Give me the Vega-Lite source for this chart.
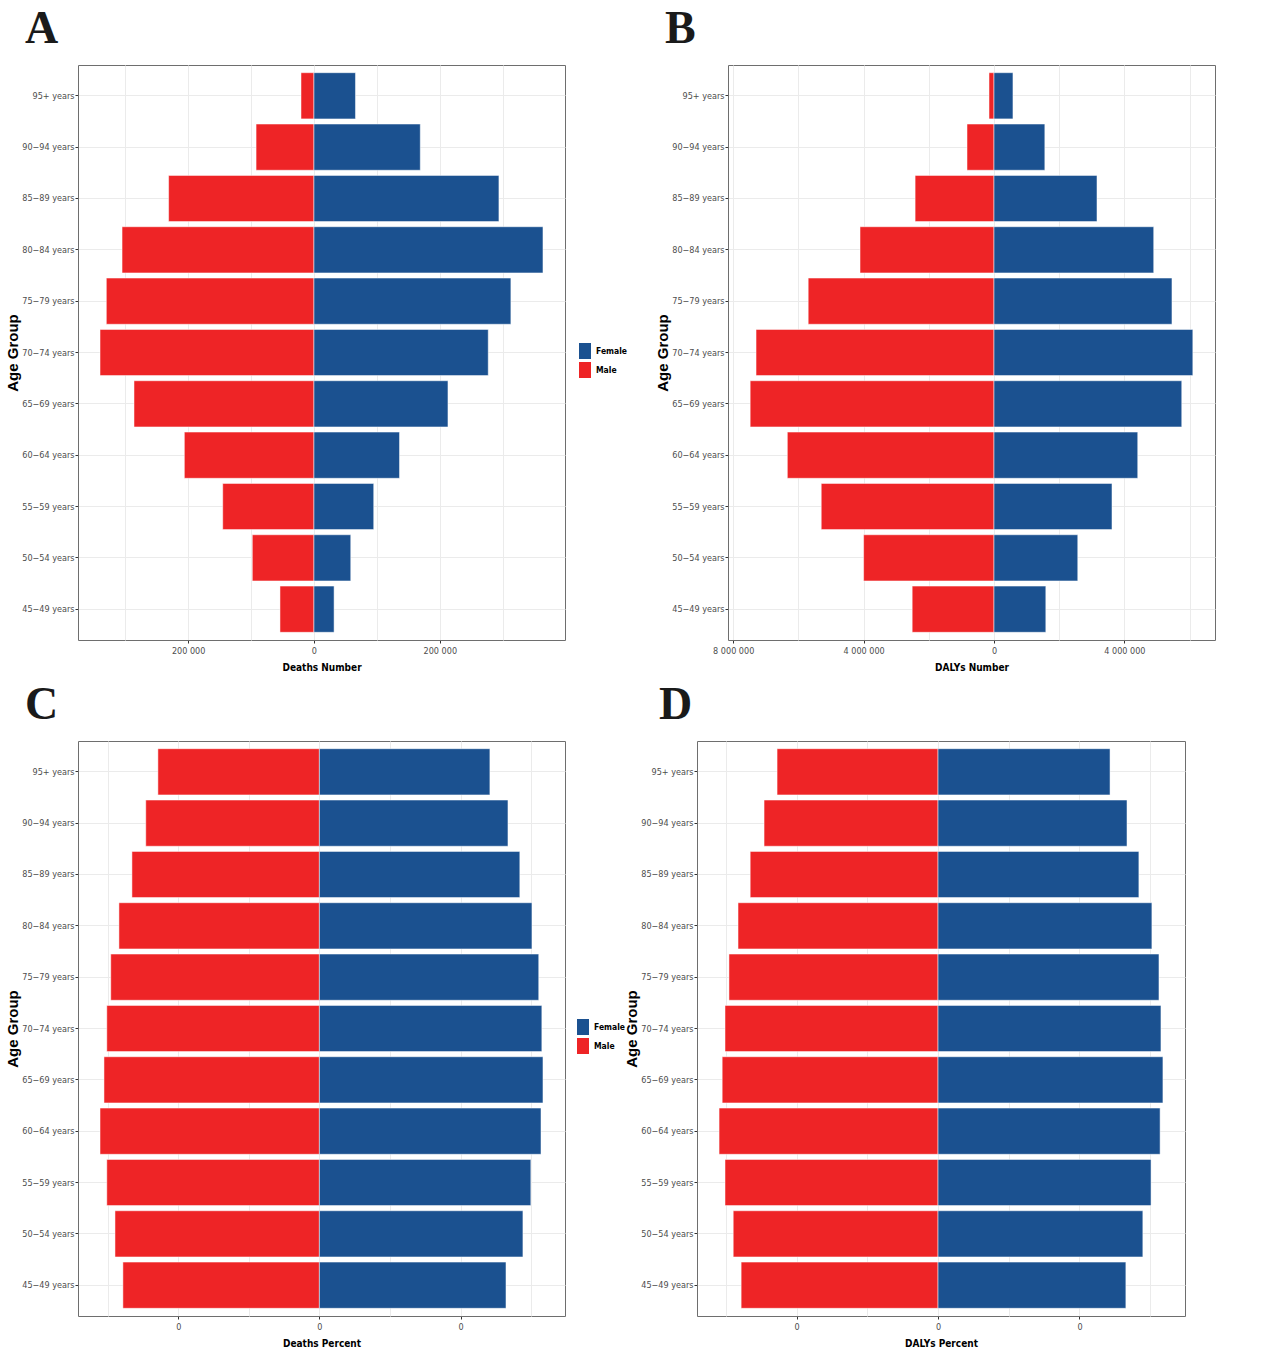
{
  "$schema": "https://vega.github.io/schema/vega-lite/v6.json",
  "padding": {"left": 5, "top": 5, "right": 0, "bottom": 0},
  "background": "white",
  "data": {"values": [
    {"panel":"A","age":"95+ years","sex":"Male","value":-20600},{"panel":"A","age":"95+ years","sex":"Female","value":66000},
    {"panel":"A","age":"90−94 years","sex":"Male","value":-92000},{"panel":"A","age":"90−94 years","sex":"Female","value":169000},
    {"panel":"A","age":"85−89 years","sex":"Male","value":-231000},{"panel":"A","age":"85−89 years","sex":"Female","value":294000},
    {"panel":"A","age":"80−84 years","sex":"Male","value":-305000},{"panel":"A","age":"80−84 years","sex":"Female","value":364000},
    {"panel":"A","age":"75−79 years","sex":"Male","value":-330000},{"panel":"A","age":"75−79 years","sex":"Female","value":313000},
    {"panel":"A","age":"70−74 years","sex":"Male","value":-340000},{"panel":"A","age":"70−74 years","sex":"Female","value":277000},
    {"panel":"A","age":"65−69 years","sex":"Male","value":-286000},{"panel":"A","age":"65−69 years","sex":"Female","value":213000},
    {"panel":"A","age":"60−64 years","sex":"Male","value":-206000},{"panel":"A","age":"60−64 years","sex":"Female","value":136000},
    {"panel":"A","age":"55−59 years","sex":"Male","value":-145000},{"panel":"A","age":"55−59 years","sex":"Female","value":95000},
    {"panel":"A","age":"50−54 years","sex":"Male","value":-98000},{"panel":"A","age":"50−54 years","sex":"Female","value":58500},
    {"panel":"A","age":"45−49 years","sex":"Male","value":-54000},{"panel":"A","age":"45−49 years","sex":"Female","value":32000},

    {"panel":"B","age":"95+ years","sex":"Male","value":-153000},{"panel":"B","age":"95+ years","sex":"Female","value":582000},
    {"panel":"B","age":"90−94 years","sex":"Male","value":-828000},{"panel":"B","age":"90−94 years","sex":"Female","value":1560000},
    {"panel":"B","age":"85−89 years","sex":"Male","value":-2420000},{"panel":"B","age":"85−89 years","sex":"Female","value":3160000},
    {"panel":"B","age":"80−84 years","sex":"Male","value":-4110000},{"panel":"B","age":"80−84 years","sex":"Female","value":4900000},
    {"panel":"B","age":"75−79 years","sex":"Male","value":-5700000},{"panel":"B","age":"75−79 years","sex":"Female","value":5460000},
    {"panel":"B","age":"70−74 years","sex":"Male","value":-7300000},{"panel":"B","age":"70−74 years","sex":"Female","value":6100000},
    {"panel":"B","age":"65−69 years","sex":"Male","value":-7480000},{"panel":"B","age":"65−69 years","sex":"Female","value":5760000},
    {"panel":"B","age":"60−64 years","sex":"Male","value":-6340000},{"panel":"B","age":"60−64 years","sex":"Female","value":4410000},
    {"panel":"B","age":"55−59 years","sex":"Male","value":-5300000},{"panel":"B","age":"55−59 years","sex":"Female","value":3620000},
    {"panel":"B","age":"50−54 years","sex":"Male","value":-4000000},{"panel":"B","age":"50−54 years","sex":"Female","value":2570000},
    {"panel":"B","age":"45−49 years","sex":"Male","value":-2510000},{"panel":"B","age":"45−49 years","sex":"Female","value":1590000},

    {"panel":"C","age":"95+ years","sex":"Male","value":-0.572},{"panel":"C","age":"95+ years","sex":"Female","value":0.604},
    {"panel":"C","age":"90−94 years","sex":"Male","value":-0.615},{"panel":"C","age":"90−94 years","sex":"Female","value":0.668},
    {"panel":"C","age":"85−89 years","sex":"Male","value":-0.664},{"panel":"C","age":"85−89 years","sex":"Female","value":0.710},
    {"panel":"C","age":"80−84 years","sex":"Male","value":-0.710},{"panel":"C","age":"80−84 years","sex":"Female","value":0.753},
    {"panel":"C","age":"75−79 years","sex":"Male","value":-0.739},{"panel":"C","age":"75−79 years","sex":"Female","value":0.777},
    {"panel":"C","age":"70−74 years","sex":"Male","value":-0.753},{"panel":"C","age":"70−74 years","sex":"Female","value":0.788},
    {"panel":"C","age":"65−69 years","sex":"Male","value":-0.763},{"panel":"C","age":"65−69 years","sex":"Female","value":0.792},
    {"panel":"C","age":"60−64 years","sex":"Male","value":-0.777},{"panel":"C","age":"60−64 years","sex":"Female","value":0.785},
    {"panel":"C","age":"55−59 years","sex":"Male","value":-0.753},{"panel":"C","age":"55−59 years","sex":"Female","value":0.749},
    {"panel":"C","age":"50−54 years","sex":"Male","value":-0.724},{"panel":"C","age":"50−54 years","sex":"Female","value":0.721},
    {"panel":"C","age":"45−49 years","sex":"Male","value":-0.696},{"panel":"C","age":"45−49 years","sex":"Female","value":0.661},

    {"panel":"D","age":"95+ years","sex":"Male","value":-0.569},{"panel":"D","age":"95+ years","sex":"Female","value":0.608},
    {"panel":"D","age":"90−94 years","sex":"Male","value":-0.615},{"panel":"D","age":"90−94 years","sex":"Female","value":0.668},
    {"panel":"D","age":"85−89 years","sex":"Male","value":-0.664},{"panel":"D","age":"85−89 years","sex":"Female","value":0.710},
    {"panel":"D","age":"80−84 years","sex":"Male","value":-0.707},{"panel":"D","age":"80−84 years","sex":"Female","value":0.756},
    {"panel":"D","age":"75−79 years","sex":"Male","value":-0.739},{"panel":"D","age":"75−79 years","sex":"Female","value":0.781},
    {"panel":"D","age":"70−74 years","sex":"Male","value":-0.753},{"panel":"D","age":"70−74 years","sex":"Female","value":0.788},
    {"panel":"D","age":"65−69 years","sex":"Male","value":-0.763},{"panel":"D","age":"65−69 years","sex":"Female","value":0.795},
    {"panel":"D","age":"60−64 years","sex":"Male","value":-0.774},{"panel":"D","age":"60−64 years","sex":"Female","value":0.785},
    {"panel":"D","age":"55−59 years","sex":"Male","value":-0.753},{"panel":"D","age":"55−59 years","sex":"Female","value":0.753},
    {"panel":"D","age":"50−54 years","sex":"Male","value":-0.724},{"panel":"D","age":"50−54 years","sex":"Female","value":0.724},
    {"panel":"D","age":"45−49 years","sex":"Male","value":-0.696},{"panel":"D","age":"45−49 years","sex":"Female","value":0.664}
  ]},
  "vconcat": [
    {
      "hconcat": [
        {
          "width": 487, "height": 575,
          "title": {"text": "A", "dx": -53},
          "transform": [{"filter": "datum.panel === 'A'"}],
          "mark": {"type": "bar", "stroke": "white", "strokeWidth": 0.5},
          "encoding": {
            "y": {"field": "age", "type": "nominal", "sort": ["95+ years","90−94 years","85−89 years","80−84 years","75−79 years","70−74 years","65−69 years","60−64 years","55−59 years","50−54 years","45−49 years"], "scale": {"paddingInner": 0.1, "paddingOuter": 0.15}, "axis": {"title": "Age Group"}},
            "x": {"field": "value", "type": "quantitative", "stack": null, "scale": {"domain": [-375000, 399000], "nice": false, "zero": false},
                  "axis": {"title": "Deaths Number", "values": [-300000,-200000,-100000,0,100000,200000,300000],
                           "labelExpr": "datum.value % 200000 !== 0 ? '' : replace(format(abs(datum.value), ','), regexp(',', 'g'), ' ')",
                           "tickOpacity": {"condition": {"test": "datum.value % 200000 !== 0", "value": 0}, "value": 1}}},
            "color": {"field": "sex", "type": "nominal", "scale": {"domain": ["Female","Male"], "range": ["#1B5190","#EE2426"]}, "legend": {"orient": "none", "legendX": 499, "legendY": 278}}
          }
        },
        {
          "width": 487, "height": 575,
          "title": {"text": "B", "dx": -63},
          "transform": [{"filter": "datum.panel === 'B'"}],
          "mark": {"type": "bar", "stroke": "white", "strokeWidth": 0.5},
          "encoding": {
            "y": {"field": "age", "type": "nominal", "sort": ["95+ years","90−94 years","85−89 years","80−84 years","75−79 years","70−74 years","65−69 years","60−64 years","55−59 years","50−54 years","45−49 years"], "scale": {"paddingInner": 0.1, "paddingOuter": 0.15}, "axis": {"title": "Age Group"}},
            "x": {"field": "value", "type": "quantitative", "stack": null, "scale": {"domain": [-8160000, 6780000], "nice": false, "zero": false},
                  "axis": {"title": "DALYs Number", "values": [-8000000,-6000000,-4000000,-2000000,0,2000000,4000000,6000000],
                           "labelExpr": "datum.value % 4000000 !== 0 ? '' : replace(format(abs(datum.value), ','), regexp(',', 'g'), ' ')",
                           "tickOpacity": {"condition": {"test": "datum.value % 4000000 !== 0", "value": 0}, "value": 1}}},
            "color": {"field": "sex", "type": "nominal", "scale": {"domain": ["Female","Male"], "range": ["#1B5190","#EE2426"]}, "legend": {"orient": "none", "legendX": 500, "legendY": 278}}
          }
        }
      ],
      "spacing": 89
    },
    {
      "hconcat": [
        {
          "width": 487, "height": 575,
          "title": {"text": "C", "dx": -53},
          "transform": [{"filter": "datum.panel === 'C'"}],
          "mark": {"type": "bar", "stroke": "white", "strokeWidth": 0.5},
          "encoding": {
            "y": {"field": "age", "type": "nominal", "sort": ["95+ years","90−94 years","85−89 years","80−84 years","75−79 years","70−74 years","65−69 years","60−64 years","55−59 years","50−54 years","45−49 years"], "scale": {"paddingInner": 0.1, "paddingOuter": 0.15}, "axis": {"title": "Age Group"}},
            "x": {"field": "value", "type": "quantitative", "stack": null, "scale": {"domain": [-0.855, 0.870], "nice": false, "zero": false},
                  "axis": {"title": "Deaths Percent", "values": [-0.75,-0.5,-0.25,0,0.25,0.5,0.75],
                           "labelExpr": "abs(datum.value) % 0.5 !== 0 ? '' : '0'",
                           "tickOpacity": {"condition": {"test": "abs(datum.value) % 0.5 !== 0", "value": 0}, "value": 1}}},
            "color": {"field": "sex", "type": "nominal", "scale": {"domain": ["Female","Male"], "range": ["#1B5190","#EE2426"]}, "legend": {"orient": "none", "legendX": 497, "legendY": 278}}
          }
        },
        {
          "width": 488, "height": 575,
          "title": {"text": "D", "dx": -38},
          "transform": [{"filter": "datum.panel === 'D'"}],
          "mark": {"type": "bar", "stroke": "white", "strokeWidth": 0.5},
          "encoding": {
            "y": {"field": "age", "type": "nominal", "sort": ["95+ years","90−94 years","85−89 years","80−84 years","75−79 years","70−74 years","65−69 years","60−64 years","55−59 years","50−54 years","45−49 years"], "scale": {"paddingInner": 0.1, "paddingOuter": 0.15}, "axis": {"title": "Age Group"}},
            "x": {"field": "value", "type": "quantitative", "stack": null, "scale": {"domain": [-0.852, 0.873], "nice": false, "zero": false},
                  "axis": {"title": "DALYs Percent", "values": [-0.75,-0.5,-0.25,0,0.25,0.5,0.75],
                           "labelExpr": "abs(datum.value) % 0.5 !== 0 ? '' : '0'",
                           "tickOpacity": {"condition": {"test": "abs(datum.value) % 0.5 !== 0", "value": 0}, "value": 1}}},
            "color": {"field": "sex", "type": "nominal", "scale": {"domain": ["Female","Male"], "range": ["#1B5190","#EE2426"]}, "legend": {"orient": "none", "legendX": 501, "legendY": 278}}
          }
        }
      ],
      "spacing": 58
    }
  ],
  "spacing": 8,
  "resolve": {"scale": {"color": "independent", "x": "independent", "y": "independent"}, "legend": {"color": "independent"}},
  "config": {
    "view": {"stroke": "#6e6e6e", "strokeWidth": 1},
    "title": {"font": "Liberation Serif", "fontSize": 46, "fontWeight": "bold", "color": "#1a1a1a", "anchor": "start", "frame": "group", "baseline": "alphabetic", "offset": 12},
    "axis": {"domain": false, "grid": true, "gridColor": "#ebebeb", "gridWidth": 1, "tickColor": "#333333", "tickSize": 3, "tickWidth": 1,
             "labelColor": "#4d4d4d", "labelFont": "DejaVu Sans Condensed, Roboto, sans-serif", "titleColor": "#000000", "titleFontWeight": "bold"},
    "axisY": {"labelFontSize": 9, "labelPadding": 1, "titleFont": "Liberation Sans", "titleFontSize": 15, "titlePadding": 1},
    "axisX": {"labelFontSize": 9, "labelPadding": 3, "titleFont": "DejaVu Sans Condensed, Roboto, sans-serif", "titleFontSize": 10, "titlePadding": 7},
    "legend": {"title": null, "padding": 0, "symbolType": "M-0.75,-1H0.75V1H-0.75Z", "symbolSize": 256, "symbolStrokeWidth": 0, "symbolOpacity": 1,
               "labelFont": "DejaVu Sans Condensed, Roboto, sans-serif", "labelFontWeight": "bold", "labelFontSize": 8.5, "labelColor": "#000000", "rowPadding": 3, "labelOffset": 3}
  }
}
